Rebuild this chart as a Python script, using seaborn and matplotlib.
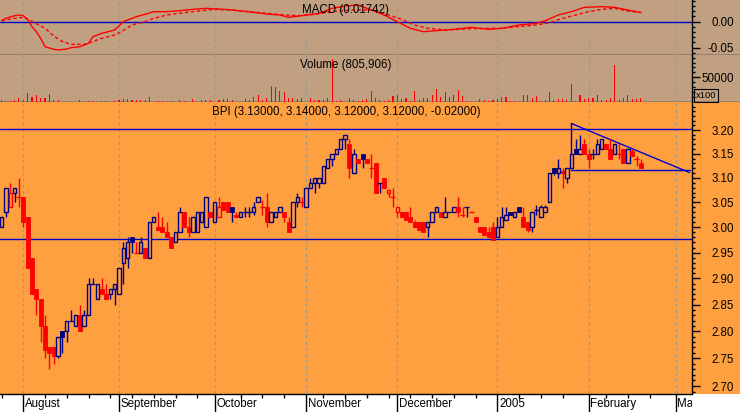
import numpy as np
import pandas as pd
import matplotlib
matplotlib.use("Agg")
import matplotlib.pyplot as plt
import matplotlib.transforms as mtransforms
from matplotlib.patches import Rectangle
from matplotlib.ticker import FixedLocator, NullFormatter
import seaborn as sns

sns.set_theme(style="white")
plt.rcParams["font.family"] = ["Liberation Sans", "DejaVu Sans"]

# ---------------- data (trading-day index 0 = 26 Jul 2004) ----------------
opens = [3.00, 3.03, 3.04, 3.07, 3.06, 3.06, 3.02, 2.94, 2.88, 2.86,
         2.81, 2.77, 2.77, 2.755, 2.80, 2.80, 2.82, 2.81, 2.83, 2.81,
         2.83, 2.89, 2.86, 2.88, 2.87, 2.87, 2.88, 2.87, 2.93, 2.94,
         2.98, 2.95, 2.95, 2.96, 2.94, 3.01, 3.00, 3.00, 2.99, 2.98,
         2.97, 2.99, 3.03, 3.00, 2.99, 2.99, 3.01, 3.00, 3.03, 3.01,
         3.02, 3.05, 3.05, 3.04, 3.025, 3.02, 3.03, 3.03, 3.03, 3.05,
         3.04, 3.04, 3.01, 3.02, 3.03, 3.03, 3.01, 3.00, 3.05, 3.05,
         3.04, 3.08, 3.09, 3.09, 3.09, 3.12, 3.14, 3.15, 3.16, 3.18,
         3.17, 3.11, 3.14, 3.15, 3.14, 3.12, 3.13, 3.09, 3.10, 3.07,
         3.06, 3.03, 3.03, 3.03, 3.02, 3.01, 3.01, 3.01, 3.00, 3.01,
         3.03, 3.03, 3.02, 3.03, 3.03, 3.04, 3.025, 3.04, 3.03, 3.02,
         3.00, 3.00, 2.99, 3.00, 2.98, 3.00, 3.015, 3.03, 3.02, 3.04,
         3.02, 3.01, 3.00, 3.035, 3.02, 3.03, 3.05, 3.12, 3.11, 3.115,
         3.10, 3.12, 3.16, 3.15, 3.17, 3.15, 3.15, 3.15, 3.16, 3.17,
         3.16, 3.15, 3.15, 3.16, 3.13, 3.155, 3.14, 3.13]
highs = [3.02, 3.08, 3.09, 3.08, 3.10, 3.06, 3.02, 2.94, 2.88, 2.86,
         2.83, 2.77, 2.77, 2.79, 2.80, 2.82, 2.84, 2.83, 2.85, 2.84,
         2.90, 2.90, 2.89, 2.90, 2.89, 2.88, 2.89, 2.92, 2.97, 2.98,
         2.98, 2.97, 2.98, 2.96, 3.01, 3.02, 3.03, 3.02, 3.01, 2.98,
         2.99, 3.04, 3.03, 3.02, 3.02, 3.03, 3.03, 3.06, 3.03, 3.05,
         3.06, 3.05, 3.05, 3.04, 3.03, 3.03, 3.04, 3.04, 3.05, 3.06,
         3.055, 3.07, 3.03, 3.03, 3.04, 3.03, 3.02, 3.05, 3.07, 3.06,
         3.08, 3.10, 3.10, 3.10, 3.125, 3.14, 3.15, 3.16, 3.18, 3.19,
         3.18, 3.16, 3.14, 3.15, 3.14, 3.15, 3.13, 3.09, 3.10, 3.075,
         3.08, 3.04, 3.03, 3.03, 3.04, 3.015, 3.01, 3.01, 3.01, 3.03,
         3.04, 3.03, 3.06, 3.03, 3.04, 3.06, 3.04, 3.04, 3.03, 3.02,
         3.00, 3.00, 3.00, 3.01, 3.02, 3.04, 3.04, 3.03, 3.03, 3.04,
         3.04, 3.01, 3.03, 3.045, 3.045, 3.045, 3.11, 3.12, 3.14, 3.12,
         3.12, 3.215, 3.18, 3.19, 3.18, 3.16, 3.16, 3.18, 3.18, 3.17,
         3.18, 3.17, 3.17, 3.16, 3.16, 3.16, 3.145, 3.14]
lows = [3.00, 3.02, 3.04, 3.05, 3.04, 3.00, 2.92, 2.87, 2.83, 2.78,
        2.75, 2.73, 2.74, 2.75, 2.76, 2.78, 2.82, 2.81, 2.80, 2.81,
        2.83, 2.89, 2.86, 2.87, 2.86, 2.86, 2.85, 2.87, 2.89, 2.92,
        2.95, 2.95, 2.95, 2.94, 2.94, 3.01, 2.995, 2.99, 2.98, 2.96,
        2.97, 2.99, 3.00, 2.98, 2.99, 2.99, 3.01, 3.00, 3.02, 3.01,
        3.02, 3.035, 3.03, 3.01, 3.02, 3.02, 3.02, 3.02, 3.025, 3.05,
        3.025, 3.00, 3.01, 3.02, 3.03, 3.01, 2.99, 3.00, 3.04, 3.04,
        3.04, 3.08, 3.07, 3.08, 3.09, 3.12, 3.125, 3.15, 3.16, 3.16,
        3.10, 3.11, 3.13, 3.12, 3.13, 3.10, 3.07, 3.07, 3.08, 3.06,
        3.04, 3.02, 3.02, 3.015, 3.01, 3.00, 2.995, 2.99, 2.98, 3.01,
        3.03, 3.02, 3.02, 3.03, 3.03, 3.02, 3.02, 3.02, 3.03, 3.01,
        2.99, 2.985, 2.98, 2.975, 2.98, 3.00, 3.015, 3.025, 3.02, 3.03,
        3.00, 2.99, 2.99, 3.025, 3.02, 3.03, 3.05, 3.105, 3.10, 3.08,
        3.09, 3.12, 3.15, 3.15, 3.15, 3.12, 3.14, 3.15, 3.16, 3.16,
        3.14, 3.15, 3.14, 3.13, 3.13, 3.145, 3.125, 3.12]
closes = [3.02, 3.08, 3.07, 3.08, 3.06, 3.01, 2.92, 2.87, 2.86, 2.81,
          2.765, 2.76, 2.755, 2.79, 2.79, 2.82, 2.82, 2.83, 2.80, 2.83,
          2.89, 2.89, 2.89, 2.87, 2.86, 2.88, 2.89, 2.92, 2.96, 2.97,
          2.97, 2.95, 2.97, 2.94, 3.01, 3.02, 2.995, 2.99, 2.98, 2.96,
          2.99, 3.03, 3.00, 2.99, 3.02, 3.03, 3.03, 3.06, 3.02, 3.05,
          3.04, 3.035, 3.03, 3.03, 3.02, 3.03, 3.03, 3.03, 3.04, 3.06,
          3.04, 3.01, 3.03, 3.03, 3.04, 3.02, 2.99, 3.05, 3.06, 3.05,
          3.08, 3.09, 3.10, 3.10, 3.125, 3.14, 3.15, 3.16, 3.18, 3.19,
          3.12, 3.15, 3.13, 3.14, 3.13, 3.12, 3.07, 3.09, 3.08, 3.075,
          3.06, 3.04, 3.02, 3.015, 3.01, 3.00, 2.995, 2.99, 3.01, 3.03,
          3.04, 3.02, 3.03, 3.03, 3.04, 3.03, 3.025, 3.04, 3.03, 3.01,
          2.99, 2.985, 2.98, 2.975, 3.00, 3.02, 3.025, 3.025, 3.03, 3.03,
          3.00, 2.995, 3.03, 3.035, 3.04, 3.04, 3.11, 3.11, 3.12, 3.11,
          3.12, 3.15, 3.15, 3.16, 3.15, 3.14, 3.15, 3.17, 3.18, 3.16,
          3.14, 3.17, 3.15, 3.13, 3.16, 3.145, 3.14, 3.12]
volumes = [4000, 2700, 2700, 4000, 8800, 4000, 18900, 10800, 15500, 9400,
           8800, 17500, 5400, 5400, 1500, 1500, 1500, 1500, 4000, 1500,
           2700, 2700, 1500, 2700, 2700, 1500, 2700, 4000, 6100, 6100,
           4000, 4000, 5400, 4000, 10100, 1500, 2000, 2000, 1500, 2000,
           1500, 4000, 2700, 1500, 7400, 1500, 4000, 4000, 4000, 1500,
           4000, 6100, 7400, 5400, 1500, 1500, 7400, 4000, 10800, 15500,
           5400, 8800, 32400, 31000, 22300, 20900, 9400, 9400, 6100, 8800,
           1500, 8800, 5400, 4000, 5400, 9400, 86400, 2700, 4000, 1500,
           8800, 4000, 2700, 4000, 6100, 22900, 8800, 5400, 2700, 5400,
           12100, 14200, 7400, 8800, 2000, 22300, 5400, 8800, 9400, 14200,
           26300, 10800, 20200, 10800, 15500, 24300, 12100, 2000, 1500, 1500,
           7400, 4000, 2700, 5400, 7400, 10800, 10800, 2700, 2700, 1500,
           14200, 15500, 8800, 12800, 2700, 4000, 20200, 5400, 7400, 6700,
           4000, 36400, 2000, 14200, 7400, 9400, 9400, 15500, 4000, 5400,
           9400, 74900, 5400, 8800, 14200, 6100, 6100, 8059]
macd_days = [0, 1, 3, 4, 5, 6, 7, 8, 9, 10, 12, 13, 15, 16, 18, 20, 21, 23, 24, 26,
             27, 28, 30, 31, 33, 35, 38, 41, 44, 47, 50, 53, 55, 58, 61, 64, 66, 69,
             70, 73, 76, 79, 82, 85, 88, 91, 94, 97, 100, 104, 108, 112, 115, 119,
             123, 125, 128, 131, 134, 138, 141, 144, 147]
macd_vals = [0.0015, 0.0061, 0.0112, 0.0125, 0.0112, 0.0042, -0.0099, -0.0196, -0.0324,
             -0.0484, -0.0535, -0.0548, -0.0529, -0.0503, -0.0484, -0.0420, -0.0292,
             -0.0228, -0.0208, -0.0163, -0.0087, -0.0003, 0.0061, 0.0093, 0.0138,
             0.0189, 0.0189, 0.0208, 0.0234, 0.0253, 0.0240, 0.0221, 0.0202, 0.0176,
             0.0144, 0.0125, 0.0080, 0.0112, 0.0125, 0.0157, 0.0253, 0.0298, 0.0317,
             0.0221, 0.0125, -0.0003, -0.0131, -0.0196, -0.0176, -0.0151, -0.0112,
             -0.0151, -0.0131, -0.0067, -0.0035, 0.0015, 0.0125, 0.0189, 0.0272,
             0.0285, 0.0272, 0.0221, 0.01742]
signal_days = [0, 3, 5, 7, 10, 12, 14, 16, 19, 21, 23, 26, 28, 30, 33, 35, 38, 42, 46,
               49, 53, 57, 61, 65, 69, 72, 76, 80, 85, 89, 92, 95, 98, 102, 105, 108,
               112, 115, 119, 123, 126, 129, 132, 135, 138, 141, 144, 147]
signal_vals = [0.0015, 0.0061, 0.0080, 0.0003, -0.0131, -0.0279, -0.0388, -0.0439,
               -0.0439, -0.0388, -0.0324, -0.0260, -0.0176, -0.0067, -0.0003, 0.0061,
               0.0125, 0.0170, 0.0208, 0.0234, 0.0221, 0.0189, 0.0157, 0.0125, 0.0112,
               0.0138, 0.0189, 0.0221, 0.0221, 0.0125, 0.0042, -0.0067, -0.0131,
               -0.0163, -0.0151, -0.0138, -0.0131, -0.0131, -0.0099, -0.0067, -0.0022,
               0.0061, 0.0125, 0.0189, 0.0234, 0.0253, 0.0202, 0.0170]
month_days = [5, 27, 49, 70, 91, 114, 135, 155]
month_labels = ["August", "September", "October", "November", "December", "2005",
                "February", "March"]
week_days = [0, 10, 15, 20, 25, 30, 35, 40, 45, 55, 60, 65, 74, 79, 84, 89, 94, 99,
             104, 109, 119, 124, 129, 139, 144, 149]
resistance = 3.2015
support = 2.976
tri_days = [131, 158.2]
tri_upper = [3.214, 3.111]
tri_lower = [3.117, 3.117]
price_ticks = [2.70, 2.75, 2.80, 2.85, 2.90, 2.95, 3.00, 3.05, 3.10, 3.15, 3.20]
macd_ticks = [-0.05, 0.00]
vol_ticks = [50000]
title_macd = "MACD (0.01742)"
title_vol = "Volume (805,906)"
title_bpi = "BPI (3.13000, 3.14000, 3.12000, 3.12000, -0.02000)"

# ---------------- style ----------------
W, H = 740, 412
AXR = 691.5
TAN = "#C0A080"
ORANGE = "#FFA040"
NAVY = "#000080"
RED = "#FF0000"
BLUE = "#0000CC"
GRID = "#9A9A90"
FS = 8.3
PX = 0.72  # one pixel in points

fig = plt.figure(figsize=(W / 100, H / 100), dpi=100, facecolor="white")


def rect(top, bottom, right):
    return [0, 1 - bottom / H, right / W, (bottom - top) / H]


panels = [(0, 55.3, TAN, True), (55.3, 102.3, TAN, True), (102.3, 394, ORANGE, False)]
for top, bot, col, line in panels:
    bg = fig.add_axes(rect(top, bot, W), facecolor=col)
    bg.set_xticks([])
    bg.set_yticks([])
    for s in bg.spines.values():
        s.set_visible(False)
    if line:
        bg.spines["bottom"].set_visible(True)
        bg.spines["bottom"].set_color("black")
        bg.spines["bottom"].set_linewidth(1.0)

ax_m = fig.add_axes(rect(0, 55.3, AXR), facecolor="none")
ax_v = fig.add_axes(rect(55.3, 102.3, AXR), facecolor="none", sharex=ax_m)
ax_p = fig.add_axes(rect(102.3, 394, AXR), facecolor="none", sharex=ax_m)
ax_l = fig.add_axes(rect(394, 412, AXR), facecolor="none", sharex=ax_m)

x_left = -1.55 / 4.349
x_right = (AXR - 1.55) / 4.349

for ax in (ax_m, ax_v, ax_p, ax_l):
    for s in ax.spines.values():
        s.set_visible(False)
for ax in (ax_m, ax_v, ax_p):
    ax.spines["right"].set_visible(True)
    ax.spines["right"].set_color("black")
    ax.spines["right"].set_linewidth(1.0)
    for d in month_days:
        ax.axvline(d, color=GRID, lw=0.9, ls=(0, (2.5, 2.5)), zorder=0.5)
ax_p.spines["bottom"].set_visible(True)
ax_p.spines["bottom"].set_color("black")
ax_p.spines["bottom"].set_linewidth(1.0)

# ---------------- MACD ----------------
ax_m.axhline(0, color=BLUE, lw=1.0, zorder=1)
sns.lineplot(x=macd_days, y=macd_vals, ax=ax_m, color=RED, linewidth=1.0,
             estimator=None, sort=False, zorder=3)
sns.lineplot(x=signal_days, y=signal_vals, ax=ax_m, color=RED, linewidth=1.0,
             estimator=None, sort=False, linestyle=(0, (2.5, 1.8)), zorder=3)
ax_m.set_ylim(-0.0650, 0.04135)

# ---------------- Volume ----------------
days = list(range(len(closes)))
sns.barplot(x=days, y=volumes, ax=ax_v, native_scale=True, width=0.25, color=RED,
            saturation=1, errorbar=None, linewidth=0, zorder=3)
ax_v.set_ylim(0, 94500)

# ---------------- Price candles ----------------
ax_p.set_yscale("log")
ax_p.set_ylim(2.6858, 3.2594)
ax_p.plot([x_left, x_right], [resistance, resistance], color=BLUE, lw=1.0, zorder=1)
ax_p.plot([x_left, x_right], [support, support], color=BLUE, lw=1.0, zorder=1)
ax_p.plot(tri_days, tri_upper, color=BLUE, lw=1.0, zorder=1)
ax_p.plot(tri_days, tri_lower, color=BLUE, lw=1.0, zorder=1)

for i in days:
    o, h, l, c = opens[i], highs[i], lows[i], closes[i]
    prev = closes[i - 1] if i > 0 else o
    col = RED if c < prev else NAVY
    ax_p.vlines(i, l, h, color=col, lw=1.0, zorder=3)
    if c > o:
        ax_p.add_patch(Rectangle((i - 0.39, o), 0.78, c - o, facecolor=ORANGE,
                                 edgecolor=col, lw=1.0, zorder=4))
    elif c < o:
        ax_p.add_patch(Rectangle((i - 0.46, c), 0.92, o - c, facecolor=col,
                                 edgecolor=col, lw=0.6, zorder=4))
    else:
        ax_p.hlines(c, i - 0.58, i + 0.58, color=col, lw=1.0, zorder=4)

# ---------------- axes / ticks ----------------
for ax in (ax_m, ax_v, ax_l):
    ax.tick_params(axis="x", which="both", bottom=False, top=False,
                   labelbottom=False)
ax_l.set_yticks([])
ax_l.set_ylim(0, 1)

ax_p.xaxis.set_major_locator(FixedLocator(month_days))
ax_p.xaxis.set_minor_locator(FixedLocator(week_days))
ax_p.xaxis.set_major_formatter(NullFormatter())
ax_p.xaxis.set_minor_formatter(NullFormatter())
ax_p.tick_params(axis="x", which="major", direction="out", length=18 * PX,
                 width=1.0, color="black", bottom=True, labelbottom=False)
ax_p.tick_params(axis="x", which="minor", direction="out", length=3.5 * PX,
                 width=1.0, color="black", bottom=True)
ax_p.set_xlim(x_left, x_right)

minor_sets = {
    ax_p: [round(2.69 + 0.01 * k, 2) for k in range(0, 58)],
    ax_m: [round(-0.06 + 0.01 * k, 2) for k in range(0, 11)],
    ax_v: [10000 * k for k in range(1, 10)],
}
major_sets = {ax_p: price_ticks, ax_m: macd_ticks, ax_v: vol_ticks}
label_sets = {
    ax_p: [f"{v:.2f}" for v in price_ticks],
    ax_m: ["-0.05", "0.00"],
    ax_v: ["50000"],
}
for ax in (ax_m, ax_v, ax_p):
    ax.yaxis.set_major_locator(FixedLocator(major_sets[ax]))
    ax.yaxis.set_minor_locator(FixedLocator(minor_sets[ax]))
    ax.yaxis.set_major_formatter(NullFormatter())
    ax.yaxis.set_minor_formatter(NullFormatter())
    ax.tick_params(axis="y", which="major", direction="out", length=8 * PX,
                   width=1.0, color="black", right=True, left=False,
                   labelleft=False, labelright=False)
    ax.tick_params(axis="y", which="minor", direction="out", length=3.3 * PX,
                   width=1.0, color="black", right=True, left=False)
    tr = mtransforms.blended_transform_factory(ax.transAxes, ax.transData)
    tr = mtransforms.offset_copy(tr, fig=fig, y=-1.5, units="dots")
    for v, s in zip(major_sets[ax], label_sets[ax]):
        ax.text(734 / AXR, v, s, transform=tr, ha="right", va="center",
                fontsize=FS, color="black", clip_on=False)
    ax.set_xlabel("")
    ax.set_ylabel("")

ax_m.set_xlim(x_left, x_right)

# month labels (clipped at plotting-area edge)
tr_l = mtransforms.blended_transform_factory(ax_l.transData, ax_l.transAxes)
for d, s in zip(month_days, month_labels):
    ax_l.text(d + 0.4, 0.42, s, transform=tr_l, ha="left", va="center",
              fontsize=FS, color="black", clip_on=True)

# titles
ax_m.text(0.5, 1 - 10 / 55.3, title_macd, transform=ax_m.transAxes,
          ha="center", va="center", fontsize=FS, color="black")
ax_v.text(0.5, 1 - 9.3 / 47, title_vol, transform=ax_v.transAxes,
          ha="center", va="center", fontsize=FS, color="black")
ax_p.text(0.5, 1 - 9.7 / 291.7, title_bpi, transform=ax_p.transAxes,
          ha="center", va="center", fontsize=FS, color="black")

# x100 unit box
fig.text(695.5 / W, 1 - 95.5 / H, "x100", ha="left", va="center", fontsize=6.8,
         color="black",
         bbox=dict(boxstyle="square,pad=0.18", fc="none", ec="black", lw=0.8))

fig.savefig("out.png", dpi=100, facecolor="white")
